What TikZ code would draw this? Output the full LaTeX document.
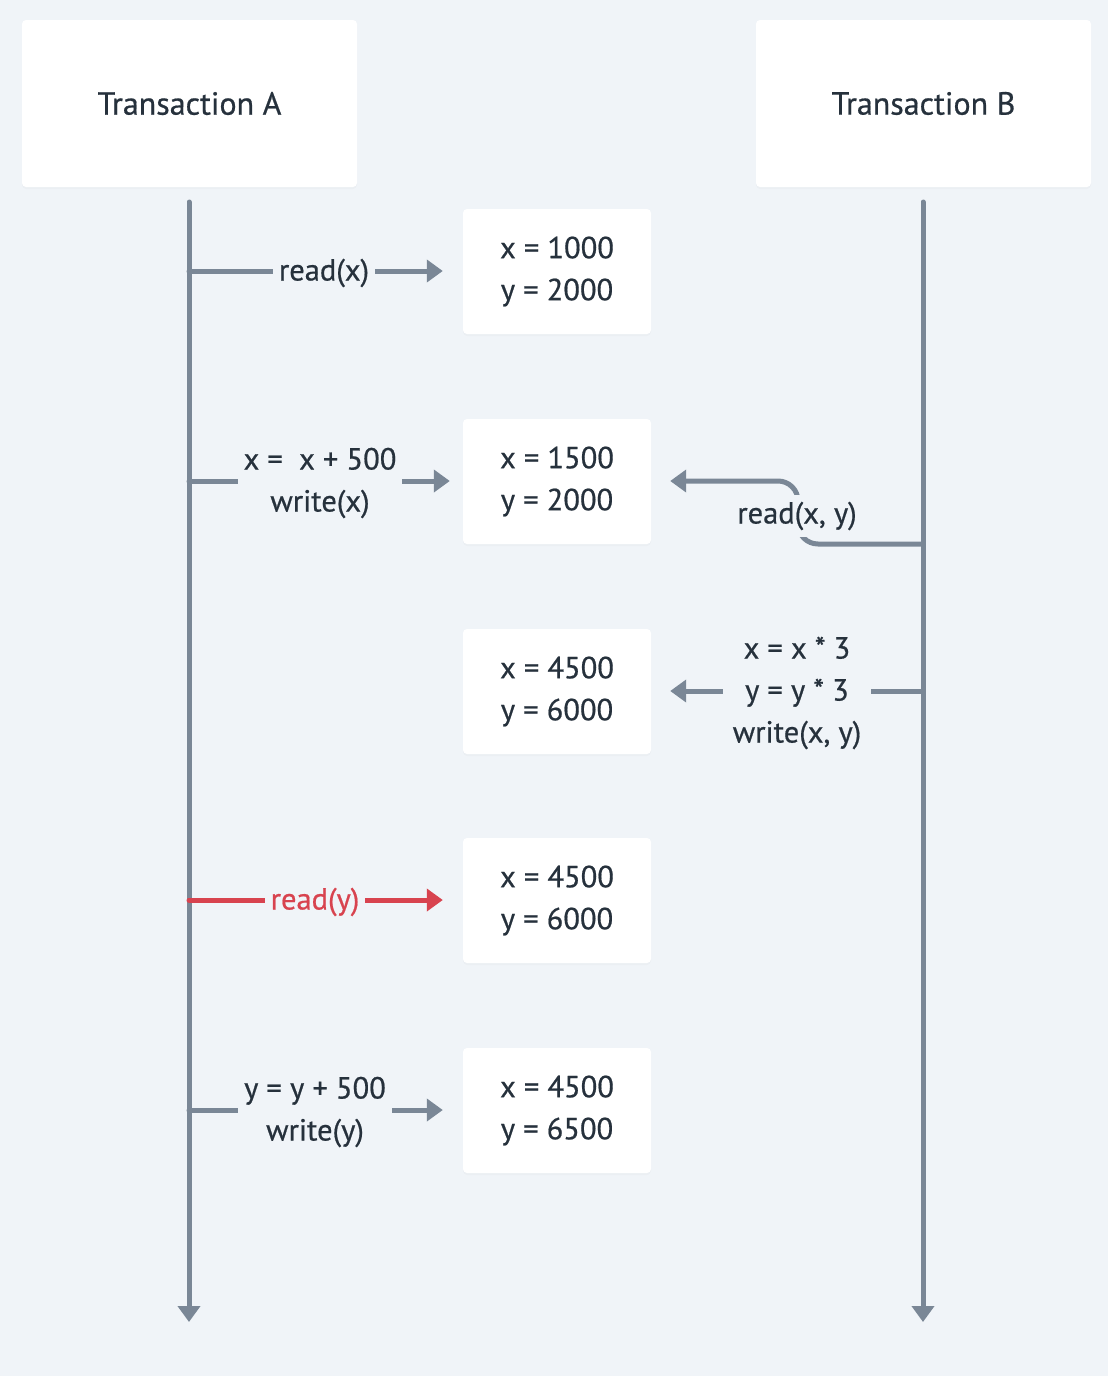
\documentclass[tikz,border=0pt]{standalone}
\usepackage{fontspec}
\setmainfont{PT Sans}[FakeBold=0.6]
\usetikzlibrary{arrows.meta,shadows}
\definecolor{bg}{HTML}{F0F4F8}
\definecolor{ln}{HTML}{7A8796}
\definecolor{tx}{HTML}{26313C}
\definecolor{rd}{HTML}{D8434F}
\begin{document}
\begin{tikzpicture}[x=1pt,y=-1pt,
  box/.style={fill=white,rounded corners=4pt,draw=none,
    drop shadow={opacity=0.04,shadow xshift=0pt,shadow yshift=-2pt},
    text=tx,font=\fontsize{30.5}{42}\selectfont,align=center,inner sep=0pt},
  life/.style={draw=ln,line width=5pt,line cap=round,-{Triangle[length=16pt,width=22pt]}},
  arr/.style={draw=ln,line width=5pt,line cap=round,-{Triangle[length=16pt,width=22pt]}},
  lbl/.style={fill=bg,text=tx,font=\fontsize{30.5}{42}\selectfont,align=center,inner xsep=6pt,inner ysep=2pt}]
\path[fill=bg] (0,0) rectangle (1108,1376);
\useasboundingbox (0,0) rectangle (1108,1376);
% headers
\node[box,minimum width=335pt,minimum height=167pt,font=\fontsize{32}{40}\selectfont] (A) at (189.5,103.5) {Transaction A};
\node[box,minimum width=335pt,minimum height=167pt,font=\fontsize{32}{40}\selectfont] (B) at (923.5,103.5) {Transaction B};
% lifelines
\coordinate (atop) at (189,202);
\coordinate (abot) at (189,1322);
\coordinate (btop) at (923,202);
\coordinate (bbot) at (923,1322);
\draw[life] (atop) -- (abot);
\draw[life] (btop) -- (bbot);
% data boxes
\foreach \n/\y/\a/\b in {d1/271.5/1000/2000,d2/481.5/1500/2000,d3/691.5/4500/6000,d4/900.5/4500/6000,d5/1110.5/4500/6500}{
  \node[box,minimum width=188pt,minimum height=125pt] (\n) at (557,\y) {\vspace*{5pt}x = \a\\y = \b};
}
% 1 read(x)
\coordinate (a1) at (189,271);
\draw[arr] (a1) -- ([xshift=-20pt]d1.west |- a1);
\node[lbl] (l1) at (324,273) {read(x)};
% 2 write(x)
\coordinate (a2) at (189,481);
\draw[arr] (a2) -- ([xshift=-13pt]d2.west |- a2);
\node[lbl] (l2) at (320,483) {x =\ \ x + 500\\write(x)};
% 3 read(x, y)
\coordinate (b3) at (923,544);
\draw[arr,rounded corners=20pt] (b3) -- (798,544) -- (798,481) -- ([xshift=19pt]d2.east |- 0,481);
\node[lbl,inner xsep=2pt,inner ysep=7pt] (l3) at (797,516) {read(x, y)};
% 4 write(x, y)
\coordinate (b4) at (923,691);
\draw[arr] (b4) -- ([xshift=19pt]d3.east |- b4);
\node[lbl,inner xsep=10pt] (l4) at (797,693) {x = x * 3\\y = y * 3\\write(x, y)};
% 5 read(y)
\coordinate (a5) at (189,900);
\draw[arr,draw=rd] (a5) -- ([xshift=-20pt]d4.west |- a5);
\node[lbl,text=rd] (l5) at (315,902) {read(y)};
% 6 write(y)
\coordinate (a6) at (189,1110);
\draw[arr] (a6) -- ([xshift=-20pt]d5.west |- a6);
\node[lbl] (l6) at (315,1112) {y = y + 500\\write(y)};
\end{tikzpicture}
\end{document}
